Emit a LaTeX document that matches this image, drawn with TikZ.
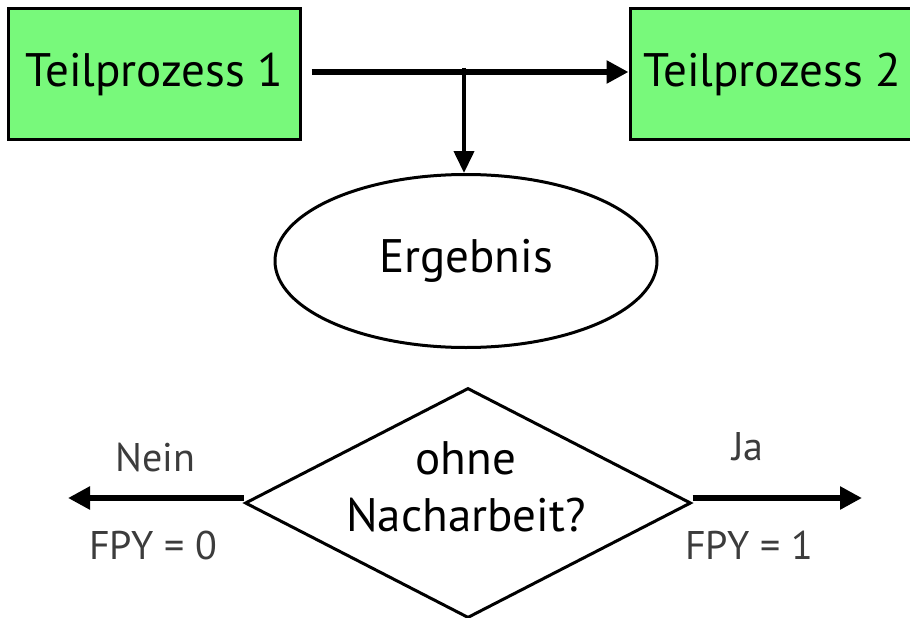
\documentclass[tikz,border=0pt]{standalone}
\usepackage{fontspec}
\setmainfont{PT Sans}
\usetikzlibrary{shapes.geometric,arrows.meta}
\definecolor{boxgreen}{HTML}{78F97B}
\definecolor{labgray}{HTML}{3C3C3C}
\tikzset{
  procbox/.style={draw=black, line width=3pt, fill=boxgreen, minimum width=292pt, minimum height=131pt, inner sep=0pt, font=\fontsize{47}{52}\selectfont},
  resell/.style={draw=black, line width=3pt, ellipse, minimum width=382pt, minimum height=173pt, inner sep=0pt, font=\fontsize{47}{52}\selectfont},
  decshape/.style={draw=black, line width=3pt, diamond, minimum width=446pt, minimum height=230pt, inner sep=0pt},
  dectxt/.style={align=center, font=\fontsize{47}{57}\selectfont},
  lab/.style={text=labgray, font=\fontsize{40}{44}\selectfont},
  thickarrow/.style={line width=6pt, -{Triangle[length=22pt,width=22pt]}},
  thinarrow/.style={line width=4pt, -{Triangle[length=22pt,width=20pt]}}
}
\begin{document}
\begin{tikzpicture}[x=1pt,y=-1pt]
\useasboundingbox (0,0) rectangle (910,618);
\node[procbox] (tp1) at (154,74) {Teilprozess 1};
\node[procbox, minimum width=290pt] (tp2) at (775,74) {\hspace*{-6pt}Teilprozess 2};
\node[resell] (erg) at (466,261) {Ergebnis};
\node[decshape] (dec) at (468,503) {};
\node[dectxt] (dectext) at (466,487) {ohne\\Nacharbeit?};
\coordinate (branch) at (464,68);
\coordinate (leftend) at (68,498);
\coordinate (rightend) at (862,498);
\draw[thickarrow, shorten <=10pt] (tp1.east |- 0,72) -- (tp2.west |- 0,72);
\draw[thinarrow] (branch) -- (branch |- erg.north);
\draw[thickarrow] (dec.west |- 0,498) -- (leftend);
\draw[thickarrow] (dec.east |- 0,498) -- (rightend);
\node[lab] (nein) at (155,458) {Nein};
\node[lab] (fpy0) at (153,545) {FPY = 0};
\node[lab] (ja) at (748,447) {Ja};
\node[lab] (fpy1) at (749,545) {FPY = 1};
\end{tikzpicture}
\end{document}
